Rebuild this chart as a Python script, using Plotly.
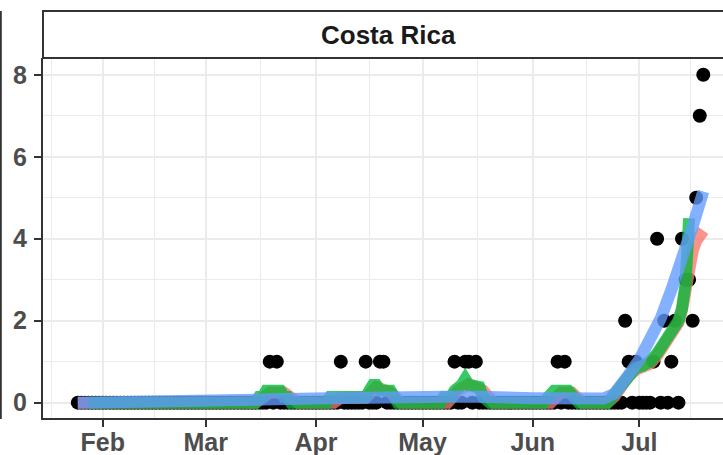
import pandas as pd
import plotly.graph_objects as go

country = "Costa Rica"

# daily new deaths; every other day in the range shows a point at 0
first_day = "2020-01-25"
last_day = "2020-07-19"
death_days = ["2020-03-19", "2020-03-21", "2020-04-08", "2020-04-15", "2020-04-19", "2020-04-20",
              "2020-05-10", "2020-05-13", "2020-05-14", "2020-05-16", "2020-06-08", "2020-06-10",
              "2020-06-27", "2020-06-28", "2020-06-30", "2020-07-05", "2020-07-06", "2020-07-08",
              "2020-07-10", "2020-07-11", "2020-07-13", "2020-07-14", "2020-07-15", "2020-07-16",
              "2020-07-17", "2020-07-18", "2020-07-19"]
death_counts = [1, 1, 1, 1, 1, 1,
                1, 1, 1, 1, 1, 1,
                2, 1, 1, 1, 4, 2,
                1, 2, 4, 3, 3, 2,
                5, 7, 8]

# the three fitted curves (red, green, blue), read at knots
red_days = ["2020-01-25", "2020-03-15", "2020-03-17", "2020-03-19", "2020-03-23", "2020-03-25", "2020-03-27",
            "2020-04-06", "2020-04-08", "2020-04-15", "2020-04-18", "2020-04-22", "2020-04-25",
            "2020-05-08", "2020-05-11", "2020-05-14", "2020-05-18", "2020-05-21",
            "2020-06-06", "2020-06-09", "2020-06-12", "2020-06-15", "2020-06-22", "2020-06-24",
            "2020-06-26", "2020-06-28", "2020-06-30", "2020-07-02", "2020-07-04", "2020-07-06",
            "2020-07-08", "2020-07-10", "2020-07-12", "2020-07-13", "2020-07-14", "2020-07-15",
            "2020-07-16", "2020-07-17", "2020-07-18", "2020-07-19"]
red_vals = [0, 0, 0.12, 0.25, 0.25, 0.12, 0,
            0, 0.12, 0.12, 0.38, 0.25, 0,
            0, 0.3, 0.45, 0.3, 0,
            0, 0.25, 0.25, 0, 0, 0.15,
            0.45, 0.65, 0.8, 0.85, 0.95, 1.15,
            1.4, 1.7, 1.95, 2.25, 2.8, 3.3,
            3.7, 3.95, 4.1, 4.2]

green_days = ["2020-01-28", "2020-03-15", "2020-03-16", "2020-03-17", "2020-03-18", "2020-03-22", "2020-03-23",
              "2020-03-24", "2020-03-25", "2020-04-04", "2020-04-05", "2020-04-15", "2020-04-16", "2020-04-17",
              "2020-04-18", "2020-04-19", "2020-04-22", "2020-04-23", "2020-04-24", "2020-05-06", "2020-05-07",
              "2020-05-09", "2020-05-10", "2020-05-12", "2020-05-13", "2020-05-14", "2020-05-17", "2020-05-18",
              "2020-05-20", "2020-06-04", "2020-06-05", "2020-06-07", "2020-06-11", "2020-06-13", "2020-06-14",
              "2020-06-22", "2020-06-24", "2020-06-26", "2020-06-28", "2020-06-30", "2020-07-02", "2020-07-04",
              "2020-07-06", "2020-07-08", "2020-07-10", "2020-07-12", "2020-07-13", "2020-07-14", "2020-07-15"]
green_vals = [0, 0, 0.14, 0.14, 0.29, 0.29, 0.14,
              0.14, 0, 0, 0.14, 0.14, 0.29, 0.43,
              0.43, 0.29, 0.29, 0.14, 0, 0, 0.14,
              0.14, 0.29, 0.43, 0.57, 0.43, 0.38, 0.14,
              0, 0, 0.14, 0.29, 0.29, 0.14, 0,
              0, 0.2, 0.5, 0.7, 0.85, 0.9, 1.0,
              1.2, 1.45, 1.75, 2.0, 2.3, 2.9, 4.5]

blue_days = ["2020-01-25", "2020-02-15", "2020-03-01", "2020-03-20", "2020-04-05", "2020-04-18", "2020-05-01",
             "2020-05-13", "2020-06-01", "2020-06-10", "2020-06-21", "2020-06-24", "2020-06-26", "2020-06-28",
             "2020-07-01", "2020-07-04", "2020-07-07", "2020-07-10", "2020-07-13", "2020-07-16", "2020-07-19"]
blue_vals = [0.0, 0.01, 0.03, 0.08, 0.11, 0.14, 0.13,
             0.15, 0.11, 0.09, 0.1, 0.22, 0.42, 0.68,
             1.05, 1.5, 2.05, 2.75, 3.45, 4.3, 5.15]

month_ticks = ["2020-02-01", "2020-03-01", "2020-04-01", "2020-05-01", "2020-06-01", "2020-07-01"]
month_labels = ["Feb", "Mar", "Apr", "May", "Jun", "Jul"]
minor_x = ["2020-01-17 12:00", "2020-02-15 12:00", "2020-03-16 12:00", "2020-04-16",
           "2020-05-16 12:00", "2020-06-16", "2020-07-15 12:00"]
y_ticks = [0, 2, 4, 6, 8]
y_minor = [1, 3, 5, 7]

days = pd.date_range(first_day, last_day, freq="D")
deaths = pd.Series(0, index=days)
deaths[pd.to_datetime(death_days)] = death_counts

fig = go.Figure()
fig.add_trace(go.Scatter(x=deaths.index, y=deaths.values, mode="markers",
                         marker=dict(color="black", size=14), showlegend=False))

for d, v, col in [(red_days, red_vals, "#F8766D"),
                  (green_days, green_vals, "#00BA38"),
                  (blue_days, blue_vals, "#619CFF")]:
    fig.add_trace(go.Scatter(x=d, y=v, mode="lines", line=dict(color=col, width=12),
                             opacity=0.78, showlegend=False))

tickfont = dict(family="Liberation Sans", size=25, color="#4D4D4D", weight="bold")
axis_common = dict(showgrid=True, gridcolor="#EBEBEB", gridwidth=2, zeroline=False, automargin=False,
                   ticks="outside", ticklen=7, tickwidth=2, tickcolor="#333333",
                   showline=True, linecolor="#333333", linewidth=2, tickfont=tickfont)

fig.update_layout(
    width=723, height=455,
    margin=dict(l=43, r=0, t=58, b=37, autoexpand=False),
    plot_bgcolor="white", paper_bgcolor="white",
    xaxis=dict(type="date", range=["2020-01-15 05:00", "2020-07-24 13:00"],
               tickvals=month_ticks, ticktext=month_labels, ticklabelstandoff=-6,
               minor=dict(tickvals=minor_x, showgrid=True, gridcolor="#EBEBEB", gridwidth=1, ticks=""),
               **axis_common),
    yaxis=dict(range=[-0.375, 8.41], tickvals=y_ticks, ticklabelstandoff=2,
               minor=dict(tickvals=y_minor, showgrid=True, gridcolor="#EBEBEB", gridwidth=1, ticks=""),
               **axis_common),
)

# facet strip on top of the panel
fig.add_shape(type="rect", xref="paper", yref="paper", x0=0, x1=1.2, y0=1, y1=1 + 47 / 360,
              line=dict(color="#333333", width=2), fillcolor="white")
fig.add_annotation(text=country, xref="paper", yref="paper", x=(388.5 - 43) / 680, y=(418 - 34.5) / 360,
                   showarrow=False, xanchor="center", yanchor="middle",
                   font=dict(family="Liberation Sans", size=26, color="#1A1A1A", weight="bold"))
# edge of the neighbouring panel on the left
fig.add_shape(type="line", xref="paper", yref="paper", x0=(0.8 - 43) / 680, x1=(0.8 - 43) / 680,
              y0=-0.003, y1=1 + 47 / 360, line=dict(color="#333333", width=2))

# drop the default page margin so the figure sits at the window's corner
fig.write_html("out.html", config={"displayModeBar": False},
               post_script="document.body.style.margin='0';document.body.style.overflow='hidden';")
